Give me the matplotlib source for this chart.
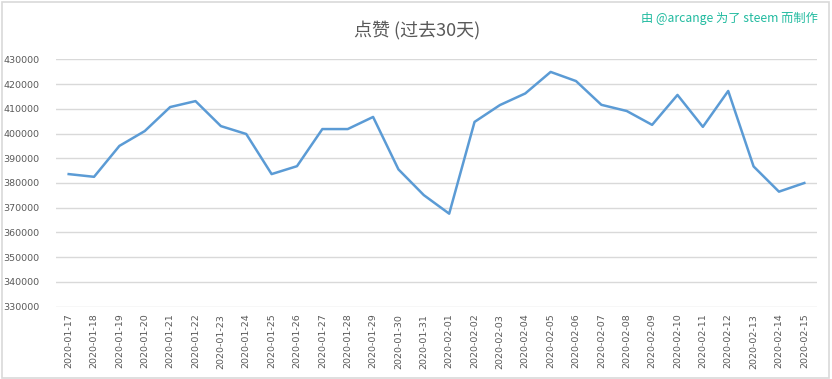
import matplotlib
matplotlib.use("Agg")
import matplotlib.pyplot as plt
from matplotlib.patches import Rectangle

plt.rcParams['font.family'] = ['Noto Sans CJK SC', 'DejaVu Sans']

dates = ["2020-01-17", "2020-01-18", "2020-01-19", "2020-01-20", "2020-01-21",
         "2020-01-22", "2020-01-23", "2020-01-24", "2020-01-25", "2020-01-26",
         "2020-01-27", "2020-01-28", "2020-01-29", "2020-01-30", "2020-01-31",
         "2020-02-01", "2020-02-02", "2020-02-03", "2020-02-04", "2020-02-05",
         "2020-02-06", "2020-02-07", "2020-02-08", "2020-02-09", "2020-02-10",
         "2020-02-11", "2020-02-12", "2020-02-13", "2020-02-14", "2020-02-15"]
votes = [383600, 382500, 395000, 401000, 410700, 413100, 403000, 399800, 383600, 386800,
         401800, 401800, 406700, 385500, 375100, 367600, 404700, 411500, 416200, 424900,
         421200, 411600, 409100, 403500, 415600, 402700, 417200, 386700, 376500, 380000]
yticks = [330000, 340000, 350000, 360000, 370000, 380000, 390000, 400000, 410000, 420000, 430000]

title = "点赞 (过去30天)"
credit = "由 @arcange 为了 steem 而制作"

fig = plt.figure(figsize=(8.32, 3.79), dpi=100)
ax = fig.add_axes([56/832, 1 - 306.7/379, (817-56)/832, (306.7-59.3)/379])

x = list(range(len(dates)))
ax.plot(x, votes, color="#5b9bd5", lw=1.8, solid_joinstyle="round")

ax.set_xlim(-0.5, len(dates) - 0.5)
ax.set_ylim(330000, 430000)
ax.set_yticks(yticks)
ax.set_yticklabels([str(v) for v in yticks], family='DejaVu Sans', fontsize=6.8, color="#595959")
ax.set_xticks(x)
ax.set_xticklabels(dates, rotation=90, family='DejaVu Sans', fontsize=6.8, color="#595959")
ax.tick_params(axis='both', length=0)
ax.tick_params(axis='y', pad=12)
ax.tick_params(axis='x', pad=5)
ax.grid(axis='y', color="#d9d9d9", lw=1)
ax.set_axisbelow(True)
for s in ax.spines.values():
    s.set_visible(False)

fig.text(417/832, 1 - 31/379, title, ha='center', va='center', fontsize=13,
         fontweight='light', color="#595959")
fig.text(818/832, 1 - 18/379, credit, ha='right', va='center', fontsize=8.8, color="#22bba0")

fig.patches.append(Rectangle((1.5/832, 1.5/379), 827/832, 376/379, transform=fig.transFigure,
                             fill=False, edgecolor="#d9d9d9", lw=1.2))

fig.savefig("out.png", dpi=100)
